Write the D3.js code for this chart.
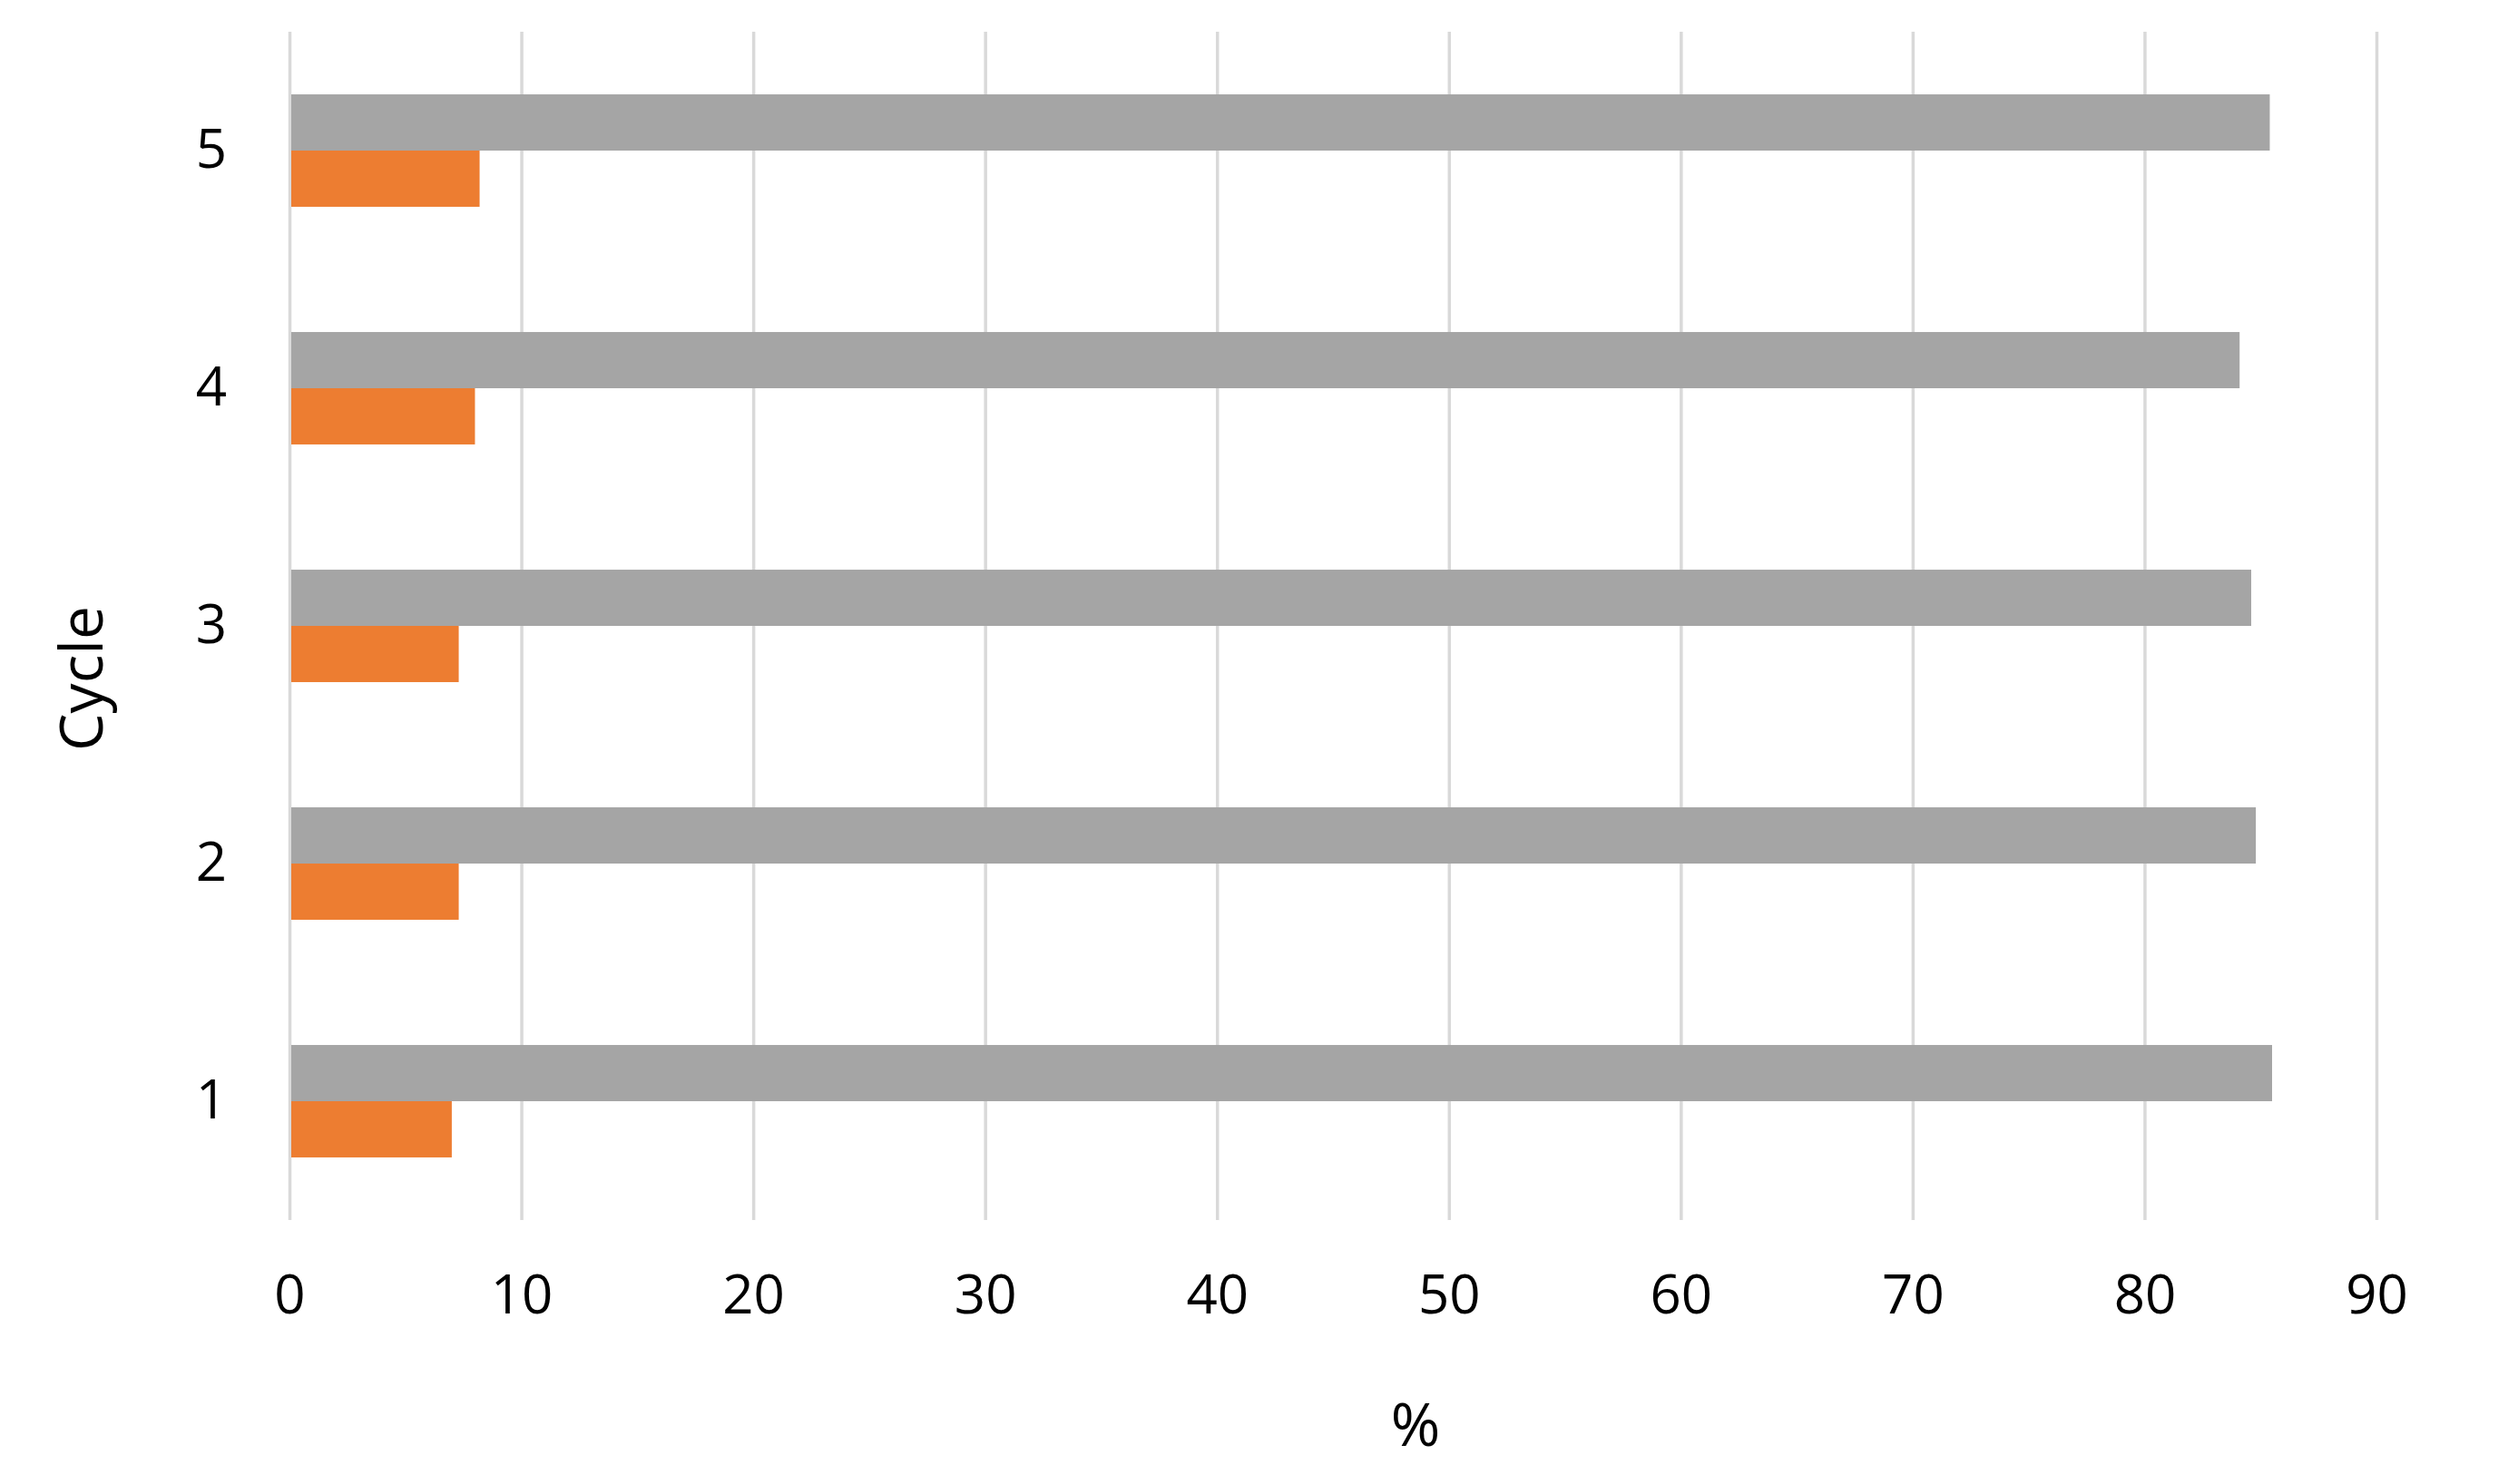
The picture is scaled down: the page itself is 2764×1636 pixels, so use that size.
<!DOCTYPE html>
<html>
<head>
<meta charset="utf-8">
<script src="https://cdn.jsdelivr.net/npm/d3@7"></script>
<style>
  body { margin: 0; background: #fff; }
  text { font-family: "Open Sans", sans-serif; fill: #000; }
</style>
</head>
<body>
<div id="chart"></div>
<script>
// categories, top to bottom as drawn
var cycles = ['5', '4', '3', '2', '1']
// series values, keyed by cycle
var grayValues = { '1': 85.5, '2': 84.8, '3': 84.6, '4': 84.1, '5': 85.4 }
var orangeValues = { '1': 7.0, '2': 7.3, '3': 7.3, '4': 8.0, '5': 8.2 }
var xTicks = [0, 10, 20, 30, 40, 50, 60, 70, 80, 90]
var seriesNames = ['gray', 'orange']

var chartWidth = 2764
var chartHeight = 1636
var plotLeft = 319
var plotRight = 2619
var plotTop = 35
var plotBottom = 1345

var svg = d3.select('#chart')
  .append('svg')
  .attr('width', chartWidth)
  .attr('height', chartHeight)

svg.append('rect')
  .attr('width', chartWidth)
  .attr('height', chartHeight)
  .attr('fill', '#fff')

// scales
var xScale = d3.scaleLinear()
  .domain([0, 90])
  .range([plotLeft, plotRight])
var yScale = d3.scaleBand()
  .domain(cycles)
  .range([plotTop, plotBottom])
var groupHeight = yScale.bandwidth() * 0.473
var innerScale = d3.scaleBand()
  .domain(seriesNames)
  .range([0, groupHeight])
var colorScale = d3.scaleOrdinal()
  .domain(seriesNames)
  .range(['#a5a5a5', '#ed7d31'])

// gridlines + x tick labels
var xAxis = d3.axisBottom(xScale)
  .tickValues(xTicks)
  .tickSize(-(plotBottom - plotTop))
  .tickPadding(60)
  .tickFormat(d3.format('d'))
var xg = svg.append('g')
  .attr('class', 'axis x-axis')
  .attr('transform', 'translate(0,' + plotBottom + ')')
  .call(xAxis)
xg.select('.domain').remove()
xg.selectAll('line')
  .attr('stroke', '#d9d9d9')
  .attr('stroke-width', 3.5)
xg.selectAll('text')
  .attr('font-size', 60)
  .attr('font-family', '"Open Sans", sans-serif')
  .attr('fill', '#000')

// bars
var rows = []
cycles.forEach(function (c) {
  rows.push({ cycle: c, series: 'gray', value: grayValues[c] })
  rows.push({ cycle: c, series: 'orange', value: orangeValues[c] })
})

svg.append('g')
  .selectAll('rect')
  .data(rows)
  .enter()
  .append('rect')
  .attr('x', xScale(0) + 2)
  .attr('y', function (d) {
    return yScale(d.cycle) + (yScale.bandwidth() - groupHeight) / 2 + innerScale(d.series)
  })
  .attr('height', innerScale.bandwidth())
  .attr('width', function (d) {
    return xScale(d.value) - xScale(0) - 2
  })
  .attr('fill', function (d) {
    return colorScale(d.series)
  })

// y tick labels
var yAxis = d3.axisLeft(yScale)
  .tickSize(0)
  .tickPadding(69)
var yg = svg.append('g')
  .attr('class', 'axis y-axis')
  .attr('transform', 'translate(' + plotLeft + ',0)')
  .call(yAxis)
yg.select('.domain').remove()
yg.selectAll('text')
  .attr('font-size', 60)
  .attr('font-family', '"Open Sans", sans-serif')
  .attr('fill', '#000')

// axis titles
svg.append('text')
  .attr('transform', 'translate(113,748) rotate(-90)')
  .attr('text-anchor', 'middle')
  .attr('font-size', 66)
  .text('Cycle')

svg.append('text')
  .attr('x', 1560)
  .attr('y', 1594)
  .attr('text-anchor', 'middle')
  .attr('font-size', 66)
  .text('%')
</script>
</body>
</html>
